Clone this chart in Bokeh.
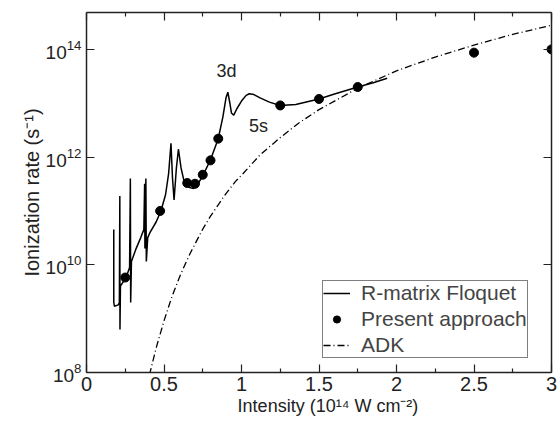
from bokeh.plotting import figure
from bokeh.models import Range1d, LinearAxis, LogAxis, FixedTicker, Label, Legend, LegendItem
from bokeh.embed import file_html
from bokeh.resources import INLINE

FONT = "Liberation Sans"

# R-matrix Floquet curve (intensity in 1e14 W/cm2, rate in s^-1)
rm_x = [0.176, 0.176, 0.180, 0.205, 0.212, 0.215, 0.216, 0.219, 0.24, 0.26, 0.278, 0.283, 0.285,
        0.29, 0.32, 0.35, 0.37, 0.375, 0.377, 0.383, 0.386, 0.395, 0.41, 0.45, 0.48, 0.51, 0.53,
        0.545, 0.555, 0.565, 0.58, 0.593, 0.61, 0.63, 0.66, 0.69, 0.72, 0.75, 0.80, 0.85, 0.88,
        0.90, 0.912, 0.925, 0.935, 0.95, 0.97, 1.0, 1.03, 1.05, 1.08, 1.12, 1.18, 1.25, 1.35,
        1.5, 1.6, 1.75, 1.85, 1.94]
rm_y = [4.5e10, 2.0e9, 1.7e9, 1.8e9, 2.0e9, 1.9e11, 6.3e8, 4.0e9, 5.0e9, 6.3e9, 8.9e9, 4.0e11, 2.0e9,
        1.15e10, 2.0e10, 3.2e10, 4.5e10, 3.2e11, 2.0e10, 4.0e11, 1.15e10, 3.2e10, 4.0e10, 6.3e10, 1.0e11,
        2.0e11, 5.0e11, 1.8e12, 4.0e11, 1.6e11, 6.3e11, 1.4e12, 6.3e11, 3.5e11, 2.75e11, 2.6e11,
        3.2e11, 4.5e11, 8.9e11, 2.2e12, 5.6e12, 1.26e13, 1.6e13, 1.0e13, 6.6e12, 6.0e12, 7.9e12,
        1.1e13, 1.4e13, 1.5e13, 1.45e13, 1.26e13, 1.05e13, 9.1e12, 9.5e12, 1.2e13, 1.48e13,
        2.0e13, 2.4e13, 2.9e13]

# Present approach
pa_x = [0.25, 0.475, 0.65, 0.70, 0.75, 0.80, 0.85, 1.25, 1.5, 1.75, 2.5, 3.0]
pa_y = [5.8e9, 1.0e11, 3.3e11, 3.2e11, 4.7e11, 8.7e11, 2.2e12, 9.1e12, 1.2e13, 2.0e13, 8.7e13, 1.0e14]

# ADK
adk_x = [0.39, 0.41, 0.45, 0.5, 0.55, 0.6, 0.63, 0.67, 0.75, 0.8, 0.85, 0.9, 0.96, 1.0, 1.12,
         1.25, 1.37, 1.5, 1.75, 2.0, 2.25, 2.5, 2.75, 3.0]
adk_y = [5.0e7, 1.0e8, 2.9e8, 9.1e8, 2.5e9, 5.9e9, 9.3e9, 1.66e10, 4.6e10, 8.0e10, 1.3e11, 2.1e11,
         3.5e11, 4.6e11, 1.1e12, 2.3e12, 4.3e12, 7.6e12, 1.9e13, 4.0e13, 7.2e13, 1.2e14, 1.9e14, 2.8e14]

x_ticks = [0, 0.5, 1, 1.5, 2, 2.5, 3]
x_tick_labels = ["0", "0.5", "1", "1.5", "2", "2.5", "3"]
x_minor = [0.25, 0.75, 1.25, 1.75, 2.25, 2.75]
y_ticks = [1e8, 1e10, 1e12, 1e14]

YMAX = 10 ** 14.685
p = figure(width=560, height=421, x_range=Range1d(0, 3), y_range=Range1d(1e8, YMAX),
           y_axis_type="log", output_backend="svg", toolbar_location=None,
           min_border_left=86, min_border_right=9, min_border_top=12, min_border_bottom=49,
           x_axis_location=None, y_axis_location=None)
p.grid.visible = False
p.outline_line_color = None
p.background_fill_color = "white"
p.border_fill_color = "white"

AXC = "#222222"
def style(ax, labels):
    ax.axis_line_color = AXC
    ax.axis_line_width = 1.5
    ax.major_tick_line_color = AXC
    ax.minor_tick_line_color = AXC
    ax.major_tick_line_width = 1.2
    ax.minor_tick_line_width = 1.2
    ax.major_tick_in = 8
    ax.major_tick_out = 0
    ax.minor_tick_in = 4
    ax.minor_tick_out = 0
    ax.major_label_text_font = FONT
    ax.major_label_text_font_size = "20px"
    ax.major_label_text_color = AXC
    ax.axis_label_text_font = FONT
    ax.axis_label_text_font_style = "normal"
    ax.axis_label_text_color = AXC
    if not labels:
        ax.major_label_text_font_size = "1px"
        ax.major_label_text_color = None
        ax.major_label_standoff = 0

xt = FixedTicker(ticks=x_ticks, minor_ticks=x_minor)
xb = LinearAxis(ticker=xt, major_label_overrides={v: t for v, t in zip(x_ticks, x_tick_labels)})
style(xb, True)
xb.major_label_standoff = 4
xb.axis_label = "\u2002\u2002Intensity (10\u00b9\u2074 W cm\u207b\u00b2)"
xb.axis_label_text_font_size = "18px"
xb.axis_label_standoff = 2
p.add_layout(xb, "below")
xa = LinearAxis(ticker=xt)
style(xa, False)
p.add_layout(xa, "above")

yt = FixedTicker(ticks=y_ticks, minor_ticks=[])
yl = LogAxis(ticker=yt)
style(yl, True)
yl.major_label_text_font_size = "19px"
yl.major_label_standoff = 5
yl.axis_label = "Ionization rate (s\u207b\u00b9)"
yl.axis_label_text_font_size = "20px"
yl.axis_label_standoff = 0
p.add_layout(yl, "left")
yr = LogAxis(ticker=yt)
style(yr, False)
p.add_layout(yr, "right")

r_rm = p.line(rm_x, rm_y, line_color="black", line_width=1.5)
r_adk = p.line(adk_x, adk_y, line_color="black", line_width=1.3, line_dash="7 3 1 3")
r_pa = p.scatter(pa_x, pa_y, size=9, fill_color="black", line_color="black")

legend = Legend(items=[LegendItem(label="R-matrix Floquet", renderers=[r_rm]),
                       LegendItem(label="Present approach", renderers=[r_pa]),
                       LegendItem(label="ADK", renderers=[r_adk])],
                location=(236, 14), label_text_font=FONT, label_text_font_size="21px",
                glyph_width=27, glyph_height=18, label_height=18, spacing=2, padding=0,
                label_standoff=11, border_line_color="black", border_line_width=1.2,
                background_fill_alpha=1, margin=0)
p.add_layout(legend)

# annotations
p.add_layout(Label(x=0.903, y=10 ** 13.6, text="3d", text_align="center", text_baseline="middle",
                   text_font=FONT, text_font_size="18px", text_color="#222222"))
p.add_layout(Label(x=1.11, y=10 ** 12.57, text="5s", text_align="center", text_baseline="middle",
                   text_font=FONT, text_font_size="18px", text_color="#222222"))

open("out.html", "w").write(file_html(p, INLINE))
